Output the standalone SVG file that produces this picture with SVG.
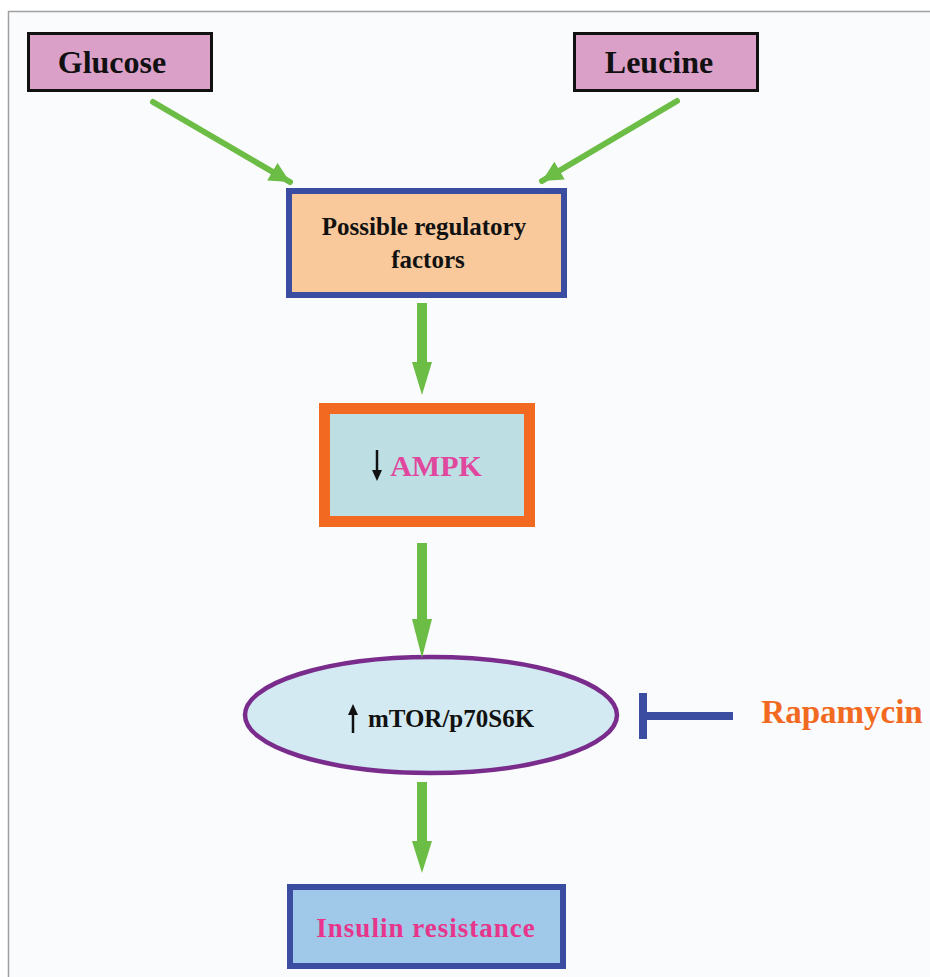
<svg xmlns="http://www.w3.org/2000/svg" width="930" height="977" viewBox="0 0 930 977">
<style>
.t{font-family:"Liberation Serif","Times New Roman",serif;font-weight:bold;text-anchor:middle}
.g{fill:#6cbd45}
.gl{stroke:#6cbd45;stroke-width:6;stroke-linecap:round;fill:none}
</style>
<defs>
<marker id="ah" viewBox="0 0 10 10" refX="10" refY="5" markerWidth="4" markerHeight="3.4" markerUnits="strokeWidth" orient="auto">
<path d="M0,0 L10,5 L0,10 Z" fill="#6cbd45"/>
</marker>
</defs>
<rect x="0" y="0" width="930" height="977" fill="#ffffff"/>
<rect x="8.5" y="11.5" width="940" height="980" fill="#fafbfd" stroke="#a0a0a0" stroke-width="1.5"/>

<g id="glucose">
<rect x="28.5" y="33.5" width="183" height="57" fill="#dba0c8" stroke="#111" stroke-width="3"/>
<text class="t" x="112" y="73" font-size="32" fill="#111">Glucose</text>
</g>
<g id="leucine">
<rect x="574.5" y="33.5" width="183" height="57" fill="#dba0c8" stroke="#111" stroke-width="3"/>
<text class="t" x="659" y="73" font-size="32" fill="#111">Leucine</text>
</g>
<g id="regulatory">
<rect x="289" y="191" width="275" height="104" fill="#f9c99b" stroke="#3a4da0" stroke-width="6"/>
<text class="t" x="424" y="235" font-size="25" fill="#111">Possible regulatory</text>
<text class="t" x="428" y="268" font-size="25" fill="#111">factors</text>
</g>
<g id="ampk">
<rect x="324.5" y="408.5" width="205" height="113" fill="#bddfe4" stroke="#f26a21" stroke-width="11"/>
<path d="M377,450 V472" stroke="#111" stroke-width="2.5"/>
<path d="M372,470 L377,481 L382,470 Z" fill="#111"/>
<text class="t" x="436" y="476" font-size="30" fill="#e0489d">AMPK</text>
</g>
<g id="mtor">
<ellipse cx="431" cy="715" rx="186" ry="58" fill="#d3eaf2" stroke="#7a2c8c" stroke-width="4.5"/>
<path d="M353,733 V713" stroke="#111" stroke-width="2.5"/>
<path d="M348,715 L353,704 L358,715 Z" fill="#111"/>
<text class="t" x="451" y="727" font-size="25" fill="#111">mTOR/p70S6K</text>
</g>
<g id="rapamycin">
<text class="t" x="842" y="723" font-size="33" fill="#f26a21" font-weight="normal" style="font-weight:bold">Rapamycin</text>
</g>
<g id="insulin">
<rect x="290" y="887" width="273" height="79" fill="#a0c8e8" stroke="#3a4da0" stroke-width="6"/>
<text class="t" x="426" y="937" font-size="27" fill="#e6358b" letter-spacing="1">Insulin resistance</text>
</g>

<g id="connectors">
<line x1="153" y1="102" x2="290" y2="182" class="gl" marker-end="url(#ah)"/>
<line x1="677" y1="101" x2="542" y2="181" class="gl" marker-end="url(#ah)"/>
<rect x="417" y="303" width="10" height="61" class="g"/>
<path d="M412,362 L432,362 L422,395 Z" class="g"/>
<rect x="417" y="543" width="10" height="78" class="g"/>
<path d="M412,619 L432,619 L422,658 Z" class="g"/>
<rect x="417" y="782" width="10" height="61" class="g"/>
<path d="M412,841 L432,841 L422,873 Z" class="g"/>
<rect x="639" y="693" width="8" height="46" fill="#3a4da0"/>
<rect x="645" y="712" width="88" height="8" fill="#3a4da0"/>
</g>
</svg>
